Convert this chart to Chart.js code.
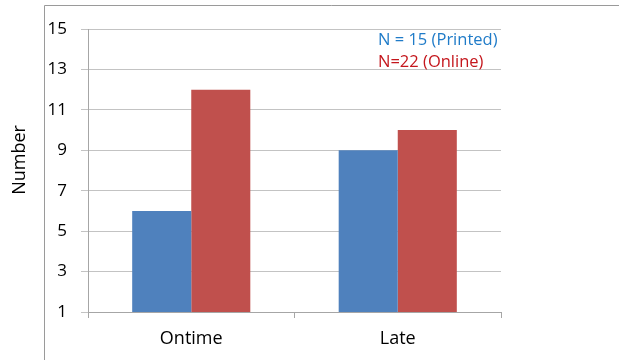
<!DOCTYPE html>
<html>
<head>
<meta charset="utf-8">
<script src="https://cdn.jsdelivr.net/npm/chart.js@4.4.1/dist/chart.umd.min.js"></script>
<style>
  html, body { margin: 0; padding: 0; background: #fff; }
  #wrap { width: 619px; height: 360px; position: relative; }
</style>
</head>
<body>
<div id="wrap"><canvas id="c" width="619" height="360"></canvas></div>
<script>
const categories = ["Ontime", "Late"];
const printedValues = [6, 9];
const onlineValues = [12, 10];
const seriesNames = ["N = 15 (Printed)", "N=22 (Online)"];
const yTicks = [1, 3, 5, 7, 9, 11, 13, 15];
const yTitle = "Number";

const FONT = "'Open Sans', sans-serif";

// Outer frame, the y title, and the two group notes in the upper right of the plot
const decorations = {
  id: "decorations",
  beforeDraw(chart) {
    const ctx = chart.ctx;
    ctx.save();
    ctx.strokeStyle = "#9a9a9a";
    ctx.lineWidth = 1;
    ctx.beginPath();
    ctx.moveTo(44.5, 360);
    ctx.lineTo(44.5, 5.5);
    ctx.lineTo(619, 5.5);
    ctx.stroke();
    ctx.restore();
  },
  afterDraw(chart) {
    const ctx = chart.ctx;
    ctx.save();
    ctx.font = "16.5px " + FONT;
    ctx.textBaseline = "middle";
    ctx.textAlign = "left";
    ctx.fillStyle = "#1f7bc8";
    ctx.fillText(seriesNames[0], 378, 40);
    ctx.fillStyle = "#c4161c";
    ctx.fillText(seriesNames[1], 378, 62);
    ctx.restore();

    ctx.save();
    ctx.translate(20, 160);
    ctx.rotate(-Math.PI / 2);
    ctx.font = "18px " + FONT;
    ctx.fillStyle = "#000";
    ctx.textAlign = "center";
    ctx.textBaseline = "middle";
    ctx.fillText(yTitle, 0, 0);
    ctx.restore();
  }
};

new Chart(document.getElementById("c"), {
  type: "bar",
  data: {
    labels: categories,
    datasets: [
      { label: seriesNames[0], data: printedValues, backgroundColor: "#4f81bd", borderWidth: 0 },
      { label: seriesNames[1], data: onlineValues, backgroundColor: "#c0504d", borderWidth: 0 }
    ]
  },
  options: {
    responsive: false,
    animation: false,
    events: [],
    layout: { padding: { left: 0, top: 29, right: 118, bottom: 0 } },
    datasets: { bar: { categoryPercentage: 0.572, barPercentage: 1.0 } },
    plugins: { legend: { display: false }, tooltip: { enabled: false } },
    scales: {
      x: {
        grid: { display: true, drawOnChartArea: false, offset: true, color: "#a6a6a6", tickLength: 6 },
        border: { color: "#a6a6a6" },
        ticks: { color: "#000", font: { family: FONT, size: 18 }, padding: 10 },
        afterFit(s) { s.height = 48; }
      },
      y: {
        min: 1, max: 15,
        afterBuildTicks(s) { s.ticks = yTicks.map(v => ({ value: v })); },
        grid: { color: "#c3c3c3", tickLength: 7 },
        border: { color: "#a6a6a6" },
        ticks: { color: "#000", font: { family: FONT, size: 17 }, padding: 14 },
        title: { display: false },
        afterFit(s) { s.width = 88; }
      }
    }
  },
  plugins: [decorations]
});
</script>
</body>
</html>
